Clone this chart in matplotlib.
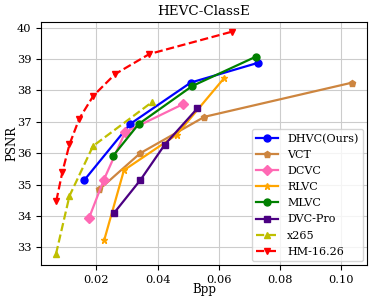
import matplotlib
matplotlib.use("Agg")
import matplotlib.pyplot as plt

plt.rcParams['font.family'] = ['DejaVu Serif']

dhvc_x = [0.0161, 0.0310, 0.0508, 0.0728]
dhvc_y = [35.15, 36.93, 38.25, 38.88]
vct_x = [0.0210, 0.0343, 0.0553, 0.1036]
vct_y = [34.85, 36.00, 37.16, 38.25]
dcvc_x = [0.0176, 0.0224, 0.0294, 0.0482]
dcvc_y = [33.94, 35.15, 36.67, 37.56]
rlvc_x = [0.0226, 0.0290, 0.0462, 0.0617]
rlvc_y = [33.25, 35.46, 36.59, 38.39]
mlvc_x = [0.0254, 0.0338, 0.0513, 0.0722]
mlvc_y = [35.91, 36.93, 38.14, 39.08]
dvcpro_x = [0.0258, 0.0344, 0.0423, 0.0530]
dvcpro_y = [34.10, 35.15, 36.27, 37.43]
x265_x = [0.0068, 0.0112, 0.0189, 0.0382]
x265_y = [32.79, 34.64, 36.23, 37.63]
hm_x = [0.0069, 0.0089, 0.0112, 0.0144, 0.0190, 0.0261, 0.0373, 0.0642]
hm_y = [34.48, 35.41, 36.28, 37.10, 37.83, 38.52, 39.16, 39.87]

fig = plt.figure(figsize=(3.74, 3.03), dpi=100)
ax = fig.add_axes([41/374, 1-265/303, 326/374, 243/303])

ax.plot(dhvc_x, dhvc_y, color='blue', marker='o', ms=5, lw=1.6, label='DHVC(Ours)')
ax.plot(vct_x, vct_y, color='peru', marker='p', ms=5, lw=1.6, label='VCT')
ax.plot(dcvc_x, dcvc_y, color='hotpink', marker='D', ms=5, lw=1.6, label='DCVC')
ax.plot(rlvc_x, rlvc_y, color='orange', marker='*', ms=5, lw=1.6, label='RLVC')
ax.plot(mlvc_x, mlvc_y, color='green', marker='o', ms=5, lw=1.6, label='MLVC')
ax.plot(dvcpro_x, dvcpro_y, color='indigo', marker='s', ms=5, lw=1.6, label='DVC-Pro')
ax.plot(x265_x, x265_y, color='y', marker='^', ms=5, lw=1.6, ls='--', label='x265')
ax.plot(hm_x, hm_y, color='red', marker='v', ms=5, lw=1.6, ls='--', label='HM-16.26')

ax.set_xlim(0.0019, 0.1084)
ax.set_ylim(32.44, 40.18)
ax.set_xticks([0.02, 0.04, 0.06, 0.08, 0.10])
ax.set_xticklabels(['0.02', '0.04', '0.06', '0.08', '0.10'])
ax.set_yticks([33, 34, 35, 36, 37, 38, 39, 40])
ax.tick_params(labelsize=8.2)
ax.grid(True, color='#cccccc', lw=0.8)
ax.set_xlabel('Bpp', fontsize=8.5, labelpad=-1)
ax.set_ylabel('PSNR', fontsize=8.5, labelpad=-1)
ax.set_title('HEVC-ClassE', fontsize=9.7, pad=5)
ax.legend(loc='lower right', fontsize=8, handlelength=2.0, labelspacing=0.55,
          borderaxespad=0.35)

fig.savefig('out.png', dpi=100)
